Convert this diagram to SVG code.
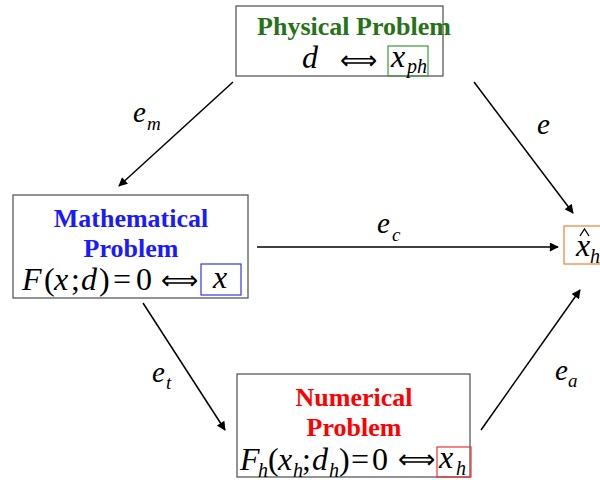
<svg xmlns="http://www.w3.org/2000/svg" width="600" height="480" viewBox="0 0 600 480">
<style>
.box{fill:#fff;stroke:#595959;stroke-width:1.3}
text{font-family:'Liberation Serif','Times New Roman',serif}
.t{font-weight:bold;font-size:26px;text-anchor:middle}
.m{font-size:32px;fill:#000}
.i{font-style:italic}
.s{font-size:20px;font-style:italic}
.l{font-size:29px;font-style:italic}
.ls{font-size:19px;font-style:italic}
.arr{font-size:26px}
.edge{stroke:#000;stroke-width:1.5;fill:none}
</style>
<defs>
<marker id="ah" viewBox="0 0 10 10" refX="9" refY="5" markerWidth="10" markerHeight="9" orient="auto" markerUnits="userSpaceOnUse">
<path d="M0,0 L10,5 L0,10 z" fill="#000"/>
</marker>
</defs>
<rect width="600" height="480" fill="#fff"/>
<g id="connectors">
<line class="edge" x1="233" y1="82" x2="119" y2="186" marker-end="url(#ah)"/>
<line class="edge" x1="474" y1="82" x2="573" y2="213" marker-end="url(#ah)"/>
<line class="edge" x1="257" y1="247" x2="558" y2="247" marker-end="url(#ah)"/>
<line class="edge" x1="143" y1="303" x2="225" y2="430" marker-end="url(#ah)"/>
<line class="edge" x1="481" y1="430" x2="580" y2="290" marker-end="url(#ah)"/>
<text class="l" x="133" y="122">e</text><text class="ls" x="147" y="130">m</text>
<text class="l" x="537" y="134">e</text>
<text class="l" x="377" y="233">e</text><text class="ls" x="392" y="241">c</text>
<text class="l" x="152" y="382">e</text><text class="ls" x="166" y="389">t</text>
<text class="l" x="555" y="380">e</text><text class="ls" x="568" y="387">a</text>
</g>
<g id="physical">
<rect class="box" x="236" y="6" width="207" height="70"/>
<text class="t" x="354" y="35" fill="#267317">Physical Problem</text>
<text class="m i" x="302" y="68">d</text>
<text class="arr" x="340" y="69">⟺</text>
<rect x="388" y="46" width="40" height="30" fill="none" stroke="#3c9a3c" stroke-width="1.2"/>
<text class="m i" x="391" y="67">x</text><text class="s" x="407" y="73">ph</text>
</g>
<g id="mathematical">
<rect class="box" x="13" y="195" width="235" height="103"/>
<text class="t" x="131" y="227" fill="#1a1aff">Mathematical</text>
<text class="t" x="131" y="257" fill="#1a1aff">Problem</text>
<text class="m" y="290"><tspan class="i" x="22">F</tspan><tspan x="44">(</tspan><tspan class="i" x="54">x</tspan><tspan x="71">;</tspan><tspan class="i" x="81">d</tspan><tspan x="99">)</tspan><tspan x="113">=</tspan><tspan x="136">0</tspan></text>
<text class="arr" x="161" y="289">⟺</text>
<rect x="201" y="264" width="40" height="31" fill="none" stroke="#3333ee" stroke-width="1.2"/>
<text class="m i" x="213" y="288">x</text>
</g>
<g id="numerical">
<rect class="box" x="237" y="374" width="233" height="103"/>
<text class="t" x="354" y="406" fill="#ff0000">Numerical</text>
<text class="t" x="354" y="436" fill="#ff0000">Problem</text>
<text class="m" y="470"><tspan class="i" x="240">F</tspan><tspan x="268">(</tspan><tspan class="i" x="278">x</tspan><tspan x="302">;</tspan><tspan class="i" x="312">d</tspan><tspan x="339">)</tspan><tspan x="351">=</tspan><tspan x="372">0</tspan></text>
<text class="s" y="477"><tspan x="258">h</tspan><tspan x="293">h</tspan><tspan x="329">h</tspan></text>
<text class="arr" x="398" y="468">⟺</text>
<rect x="437" y="447" width="34" height="30" fill="none" stroke="#ee3333" stroke-width="1.2"/>
<text class="m i" x="439" y="468">x</text><text class="s" x="456" y="475">h</text>
</g>
<g id="approx">
<rect x="564" y="226" width="40" height="38" fill="#fff" stroke="#f08030" stroke-width="1.2"/>
<text class="m i" x="576" y="256">x</text><text class="s" x="590" y="263">h</text>
<path d="M580,236 L584.5,229 L589,236" fill="none" stroke="#000" stroke-width="1.3"/>
</g>
</svg>
